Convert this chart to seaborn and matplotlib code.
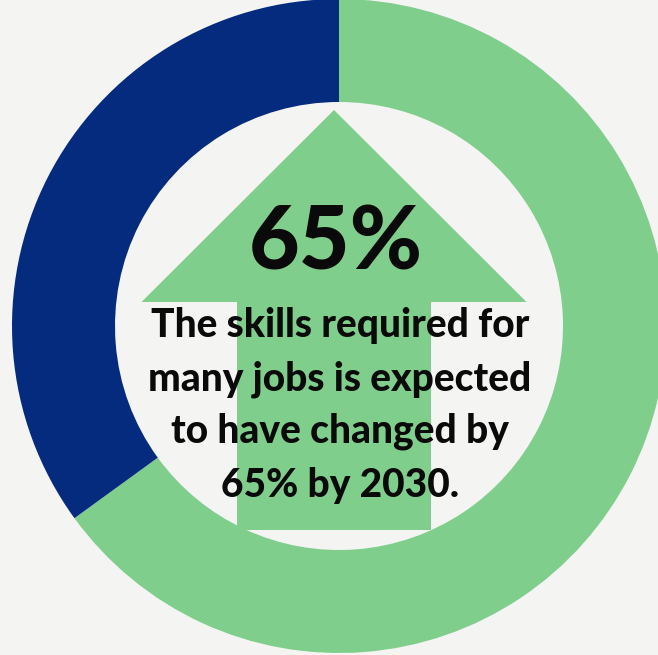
import matplotlib
matplotlib.use("Agg")
import matplotlib.pyplot as plt
from matplotlib.patches import FancyArrow
import seaborn as sns

# data
labels = ["Changed", "Unchanged"]
shares = [65, 35]
headline = "65%"
body_lines = ["The skills required for",
              "many jobs is expected",
              "to have changed by",
              "65% by 2030."]

green = "#80ce8c"
navy = "#052b7f"
bg = "#f4f4f2"

sns.set_theme(style="white")
plt.rcParams["font.family"] = ["Lato", "DejaVu Sans"]

W, H = 658, 655
fig = plt.figure(figsize=(W / 100, H / 100), dpi=100, facecolor=bg)
ax = fig.add_axes([0, 0, 1, 1])
ax.set_facecolor(bg)

# donut, green part clockwise from the top
cx, cy = 339, H - 326
ax.pie(shares, colors=[green, navy], startangle=90, counterclock=False,
       radius=327, center=(cx, cy),
       wedgeprops=dict(width=103, linewidth=0))

# big up arrow in the hole
arrow = FancyArrow(334, H - 530, 0, 420, width=194, head_width=385,
                   head_length=192, length_includes_head=True,
                   color=green, linewidth=0, zorder=2)
ax.add_patch(arrow)

ax.text(336, H - 270, headline, ha="center", va="baseline",
        fontsize=63, fontweight="black", color="#0a0a0a", zorder=3)

baselines = [337, 390, 443, 497]
for line, b in zip(body_lines, baselines):
    ax.text(340, H - b, line, ha="center", va="baseline",
            fontsize=28, fontweight="black", color="#0a0a0a", zorder=3)

ax.set_xlim(0, W)
ax.set_ylim(0, H)
ax.set_aspect("equal")
ax.axis("off")

fig.savefig("out.png", dpi=100, facecolor=bg)
